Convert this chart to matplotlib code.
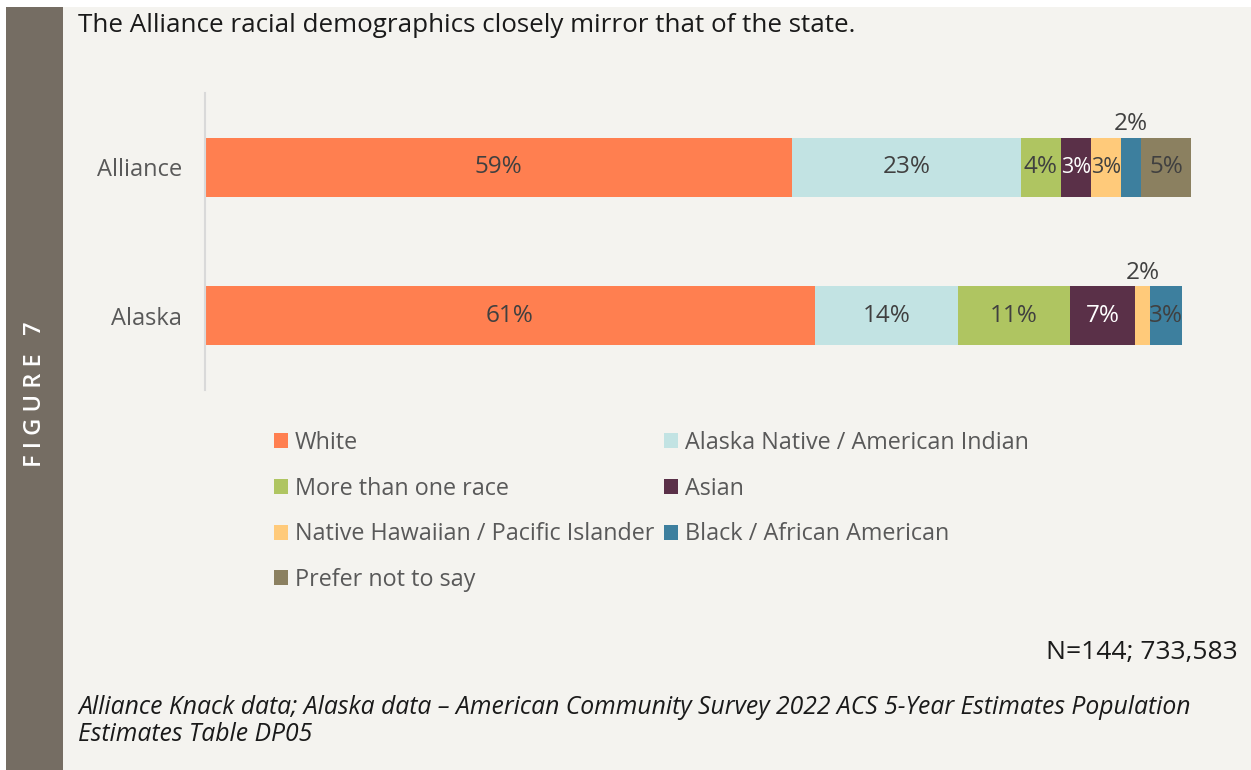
import matplotlib.pyplot as plt
from matplotlib.patches import Patch, Rectangle

plt.rcParams['font.family'] = ['Open Sans', 'DejaVu Sans']

groups = ['Alliance', 'Alaska']
categories = ['White', 'Alaska Native / American Indian', 'More than one race', 'Asian',
              'Native Hawaiian / Pacific Islander', 'Black / African American', 'Prefer not to say']
colors = ['#FF7F50', '#C2E3E3', '#AFC561', '#5A3048', '#FFCA7A', '#3D7F9E', '#8B8060']
alliance = [58.7, 22.9, 4.0, 3.0, 3.0, 2.0, 5.0]
alaska = [61.0, 14.3, 11.2, 6.5, 1.5, 3.2, 0.0]
alliance_labels = ['59%', '23%', '4%', '3%', '3%', '2%', '5%']
alaska_labels = ['61%', '14%', '11%', '7%', '2%', '3%', '']

W, H = 1251, 770
fig = plt.figure(figsize=(W / 100, H / 100), dpi=100, facecolor='white')

# panel background and side bar
fig.patches.append(Rectangle((63 / W, 0), 1 - 63 / W, 1 - 7 / H, transform=fig.transFigure,
                             facecolor='#F4F3EF', edgecolor='none', zorder=-2))
fig.patches.append(Rectangle((6 / W, 0), 57 / W, 1 - 7 / H, transform=fig.transFigure,
                             facecolor='#756D63', edgecolor='none', zorder=-1))
fig.text(35 / W, 1 - 394 / H, 'F I G U R E   7', rotation=90, color='white', fontsize=17,
         ha='center', va='center', fontweight='semibold')

fig.text(78 / W, 1 - 25 / H, 'The Alliance racial demographics closely mirror that of the state.',
         fontsize=18.7, color='#1a1a1a', ha='left', va='center')

ax = fig.add_axes([205 / W, 1 - 390 / H, 1000 / W, 297 / H])
ax.set_facecolor('none')

data = [alliance, alaska]
text_labels = [alliance_labels, alaska_labels]
small = {(0, 5), (1, 4)}
for i, (vals, labs) in enumerate(zip(data, text_labels)):
    left = 0
    for j, (v, lab) in enumerate(zip(vals, labs)):
        if v <= 0:
            continue
        ax.barh(i, v, left=left, height=0.4, color=colors[j], edgecolor='none')
        tc = 'white' if j == 3 else '#404040'
        fs = 15.5 if v <= 3.0 else 17.5  # narrow segments
        if (i, j) in small:
            ax.text(left + v / 2, i - 0.29, lab, ha='center', va='center', fontsize=17.5, color='#404040')
        else:
            ax.text(left + v / 2, i, lab, ha='center', va='center', fontsize=fs, color=tc)
        left += v

ax.set_xlim(0, 100)
ax.set_ylim(1.5, -0.5)
ax.set_yticks(range(len(groups)))
ax.set_yticklabels(groups, fontsize=17, color='#595959')
ax.tick_params(axis='y', length=0, pad=16.5)
ax.set_xticks([])
for s in ['top', 'right', 'bottom']:
    ax.spines[s].set_visible(False)
ax.spines['left'].set_color('#D9D9D9')
ax.spines['left'].set_linewidth(1.5)

handles = [Patch(facecolor=c, edgecolor='none', label=l) for c, l in zip(colors, categories)]
order = [0, 2, 4, 6, 1, 3, 5]
leg = fig.legend([handles[k] for k in order], [categories[k] for k in order], ncol=2,
                 loc='upper left', bbox_to_anchor=(274 / W, 1 - 431 / H), frameon=False,
                 fontsize=16.8, handlelength=0.6, handleheight=0.6, handletextpad=0.3,
                 labelspacing=0.93, columnspacing=0.4, borderaxespad=0, borderpad=0)
for t in leg.get_texts():
    t.set_color('#595959')

fig.text(1238 / W, 1 - 652 / H, 'N=144; 733,583', fontsize=19, color='#1a1a1a', ha='right', va='center')
fig.text(78 / W, 1 - 721 / H,
         'Alliance Knack data; Alaska data \u2013 American Community Survey 2022 ACS 5-Year Estimates Population\nEstimates Table DP05',
         fontsize=17.8, style='italic', color='#1a1a1a', ha='left', va='center', linespacing=1.1)

fig.savefig('out.png', dpi=100, facecolor='white')
